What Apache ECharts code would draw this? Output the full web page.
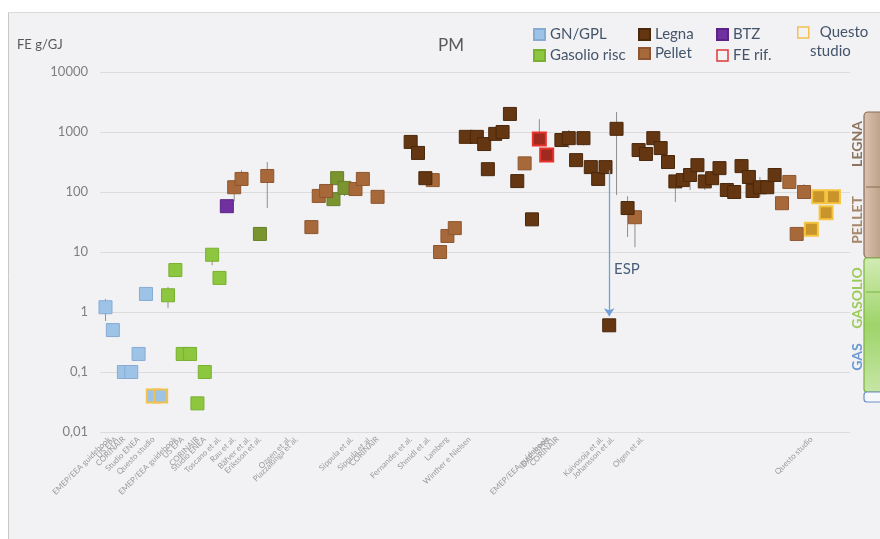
<!DOCTYPE html>
<html>
<head>
<meta charset="utf-8">
<script src="https://cdn.jsdelivr.net/npm/echarts@6/dist/echarts.min.js"></script>
<style>
  html, body { margin: 0; padding: 0; background: #fff; }
  #main { width: 880px; height: 539px; }
</style>
</head>
<body>
<div id="main"></div>
<script>
// posizioni sull'asse x: "slot" 0..203, valori FE in g/GJ (scala log)
const slotCount = 204;
const labelSlots = [2, 4, 6, 10, 14, 20, 22, 26, 28, 32, 36, 40, 43, 51, 53, 68, 73, 75, 84, 89, 94, 100, 121, 122, 124, 136, 139, 147, 193];
const labelNames = ["EMEP/EEA guidebook", "US EPA", "CORINAIR", "Studio ENEA", "Questo studio",
  "EMEP/EEA guidebook", "US EPA", "CORINAIR", "Studio ENEA", "Toscano et al.", "Rau et al.",
  "Bäfver et al.", "Eriksson et al.", "Ozgen et al.", "Piazzalunga et al.", "Sippula et al.",
  "Sippula et al.", "CORINAIR", "Fernandes et al.", "Shmidl et al.", "Lamberg", "Winther e Nielsen",
  "EMEP/EEA guidebook", "IDAE ISPRA", "CORINAIR", "Kaivosoja et al.", "Johansson et al.",
  "Olgen et al.", "Questo studio"];
const yTicks = [0.01, 0.1, 1, 10, 100, 1000, 10000];

const gnGpl = [[1, 1.2], [3, 0.5], [6, 0.1], [8, 0.1], [10, 0.2], [12, 2]];
const gnGplQuesto = [[14, 0.04], [16, 0.04]];
const gasolio = [[18, 1.9], [20, 5], [22, 0.2], [24, 0.2], [26, 0.03], [28, 0.1], [30, 9], [32, 3.7]];
const gasolioAltro = [[43, 20], [63, 76], [64, 170], [66, 117]];
const btz = [[34, 58]];
const pellet = [[36, 120], [38, 165], [45, 185], [57, 26], [59, 86], [61, 104], [69, 112], [71, 165],
  [75, 83], [90, 158], [92, 10], [94, 18.5], [96, 25], [115, 300], [145, 38], [185, 65], [187, 147],
  [189, 20], [191, 100]];
const legna = [[84, 683], [86, 448], [88, 170], [99, 830], [102, 830], [104, 630], [105, 240], [107, 930],
  [109, 1000], [111, 2000], [113, 152], [117, 35], [125, 735], [127, 790], [129, 340], [131, 790],
  [133, 260], [135, 165], [137, 260], [138, 0.6], [140, 1130], [143, 54], [146, 500], [148, 430],
  [150, 790], [152, 540], [154, 316], [156, 150], [158, 158], [160, 192], [162, 280], [164, 150],
  [166, 170], [168, 250], [170, 108], [172, 100], [174, 270], [176, 178], [177, 104], [179, 120],
  [181, 120], [183, 192]];
const feRif = [[119, 766], [121, 412]];
const questo = [[193, 24], [195, 83], [197, 45], [199, 83]];
// barre di errore: slot, min, max
const errorBars = [[1, 0.71, 1.65], [18, 1.17, 2.6], [30, 6, 11.2], [36, 70, 120], [38, 165, 230],
  [45, 54, 316], [66, 86, 117], [119, 766, 1640], [127, 540, 1080], [131, 600, 790], [140, 89, 2150],
  [143, 17.8, 85], [145, 12, 38], [156, 68, 150], [160, 108, 192], [164, 108, 150], [179, 83, 178],
  [191, 83, 135]];
// freccia ESP
const espFrom = [138, 230];
const espTo = [138, 0.85];

const labelMap = {};
labelSlots.forEach((s, i) => { labelMap[s] = labelNames[i]; });

function squares(name, data, color, border, bw) {
  return {
    name: name,
    type: "scatter",
    data: data,
    symbol: "rect",
    symbolSize: 13,
    z: 3,
    itemStyle: { color: color, borderColor: border, borderWidth: bw || 1, opacity: 1 },
    emphasis: { disabled: true }
  };
}

const legnaSeries = squares("Legna", legna, "#643612", "#4a280c");
legnaSeries.markLine = {
  silent: true,
  symbol: ["none", "arrow"],
  symbolSize: 8,
  label: { show: false },
  lineStyle: { color: "#6fa0d8", width: 1.3, type: "solid" },
  data: [[{ coord: espFrom }, { coord: espTo }]]
};

const legendText = { color: "#44546a", fontSize: 15, fontFamily: "Lato" };

const option = {
  backgroundColor: "#f2f2f4",
  animation: false,
  textStyle: { fontFamily: "Lato" },
  title: [
    { text: "PM", left: 433, top: 32, textStyle: { fontSize: 17, fontWeight: "normal", color: "#595959", fontFamily: "Lato" } },
    { text: "FE g/GJ", left: 12, top: 33, textStyle: { fontSize: 13, fontWeight: "normal", color: "#595959", fontFamily: "Lato" } }
  ],
  legend: [
    { left: 528, top: 22, orient: "vertical", itemGap: 6, itemWidth: 11, itemHeight: 11, icon: "rect",
      textStyle: legendText, data: ["GN/GPL", "Gasolio risc"] },
    { left: 633, top: 22, orient: "vertical", itemGap: 4, itemWidth: 11, itemHeight: 11, icon: "rect",
      textStyle: legendText, data: ["Legna", "Pellet"] },
    { left: 711, top: 22, orient: "vertical", itemGap: 6, itemWidth: 11, itemHeight: 11, icon: "rect",
      textStyle: legendText,
      data: ["BTZ", { name: "FE rif.", itemStyle: { color: "rgba(0,0,0,0)", borderColor: "#e03a3a", borderWidth: 1.5 } }] },
    { left: 792, top: 20, orient: "vertical", itemWidth: 11, itemHeight: 11, icon: "rect",
      textStyle: Object.assign({}, legendText, { padding: [6, 0, 0, 6] }),
      formatter: () => "Questo",
      data: [{ name: "Questo studio", itemStyle: { color: "rgba(0,0,0,0)", borderColor: "#f2c14e", borderWidth: 1.5 } }] }
  ],
  grid: { left: 100, right: 30, top: 72, bottom: 107 },
  xAxis: {
    type: "category",
    data: Array.from({ length: slotCount }, (_, i) => String(i)),
    boundaryGap: true,
    axisLine: { show: false },
    axisTick: { show: false },
    splitLine: { show: false },
    axisLabel: {
      interval: 0,
      rotate: 45,
      fontSize: 8,
      color: "#9a9a9a",
      margin: 6,
      formatter: (v, i) => labelMap[i] || ""
    }
  },
  yAxis: {
    type: "log",
    logBase: 10,
    min: 0.01,
    max: 10000,
    axisLine: { show: false },
    axisTick: { show: false },
    splitLine: { lineStyle: { color: "#dcdcdc", width: 1 } },
    axisLabel: {
      color: "#7f7f7f",
      fontSize: 13,
      margin: 12,
      formatter: v => {
        let best = yTicks[0];
        yTicks.forEach(t => { if (Math.abs(Math.log10(t) - Math.log10(v)) < Math.abs(Math.log10(best) - Math.log10(v))) best = t; });
        return String(best).replace(".", ",");
      }
    }
  },
  series: [
    {
      name: "err",
      type: "custom",
      z: 1,
      silent: true,
      data: errorBars,
      encode: { x: 0, y: [1, 2] },
      renderItem: function (params, api) {
        const a = api.coord([api.value(0), api.value(1)]);
        const b = api.coord([api.value(0), api.value(2)]);
        return { type: "line", shape: { x1: a[0], y1: a[1], x2: b[0], y2: b[1] },
          style: { stroke: "#8f8f8f", lineWidth: 1 } };
      }
    },
    squares("GN/GPL", gnGpl, "#9dc3e6", "#86acd4"),
    squares("GN/GPL questo", gnGplQuesto, "#9dc3e6", "#f2c14e", 2),
    squares("Gasolio risc", gasolio, "#8dc63f", "#79b030"),
    squares("Gasolio altro", gasolioAltro, "#7a9430", "#66802a"),
    squares("BTZ", btz, "#7030a0", "#5a2486"),
    squares("Pellet", pellet, "#a8693a", "#8e5630"),
    legnaSeries,
    squares("FE rif.", feRif, "#a02a1e", "#e8322a", 2),
    squares("Questo studio", questo, "#c9952a", "#f5c542", 2)
  ],
  graphic: [
    { type: "line", shape: { x1: 8.5, y1: 12, x2: 8.5, y2: 539 }, style: { stroke: "#c8c8c8", lineWidth: 1 } },
    { type: "rect", shape: { x: 0, y: 0, width: 8, height: 539 }, style: { fill: "#ffffff" } },
    { type: "line", shape: { x1: 8, y1: 12.5, x2: 880, y2: 12.5 }, style: { stroke: "#dadada", lineWidth: 1 } },
    { type: "rect", shape: { x: 0, y: 0, width: 880, height: 12 }, style: { fill: "#ffffff" } },
    { type: "text", left: 614, top: 262, style: { text: "ESP", fill: "#4a5f7a", font: "15px Lato" } },
    { type: "text", left: 810, top: 44, style: { text: "studio", fill: "#44546a", font: "15px Lato" } },
    // riquadro laterale
    { type: "rect", shape: { x: 864, y: 112, width: 30, height: 146, r: 4 },
      style: { fill: new echarts.graphic.LinearGradient(0, 0, 1, 0, [
        { offset: 0, color: "#d9c3b0" }, { offset: 1, color: "#a9876b" }]), stroke: "#8b6b55", lineWidth: 1.2 } },
    { type: "line", shape: { x1: 866, y1: 187, x2: 880, y2: 187 }, style: { stroke: "#8b6b55", lineWidth: 1 } },
    { type: "rect", shape: { x: 864, y: 258, width: 30, height: 134, r: 3 },
      style: { fill: new echarts.graphic.LinearGradient(0, 0, 0, 1, [
        { offset: 0, color: "#d2ecb4" }, { offset: 0.5, color: "#9fd36a" }, { offset: 1, color: "#c6e6a6" }]), stroke: "#7cb342", lineWidth: 1.2 } },
    { type: "line", shape: { x1: 866, y1: 292, x2: 880, y2: 292 }, style: { stroke: "#7cb342", lineWidth: 1 } },
    { type: "rect", shape: { x: 864, y: 392, width: 30, height: 10, r: 3 },
      style: { fill: "#f6f7fa", stroke: "#6d8fc7", lineWidth: 1.2 } },
    { type: "text", x: 857, y: 144, rotation: Math.PI / 2,
      style: { text: "LEGNA", fill: "#8c7560", font: "bold 14px Lato", align: "center", verticalAlign: "middle" } },
    { type: "text", x: 857, y: 220, rotation: Math.PI / 2,
      style: { text: "PELLET", fill: "#a58668", font: "bold 14px Lato", align: "center", verticalAlign: "middle" } },
    { type: "text", x: 857, y: 298, rotation: Math.PI / 2,
      style: { text: "GASOLIO", fill: "#9acb5a", font: "bold 14px Lato", align: "center", verticalAlign: "middle" } },
    { type: "text", x: 857, y: 357, rotation: Math.PI / 2,
      style: { text: "GAS", fill: "#6a98d0", font: "bold 14px Lato", align: "center", verticalAlign: "middle" } }
  ]
};

const chart = echarts.init(document.getElementById("main"));
chart.setOption(option);
</script>
</body>
</html>
